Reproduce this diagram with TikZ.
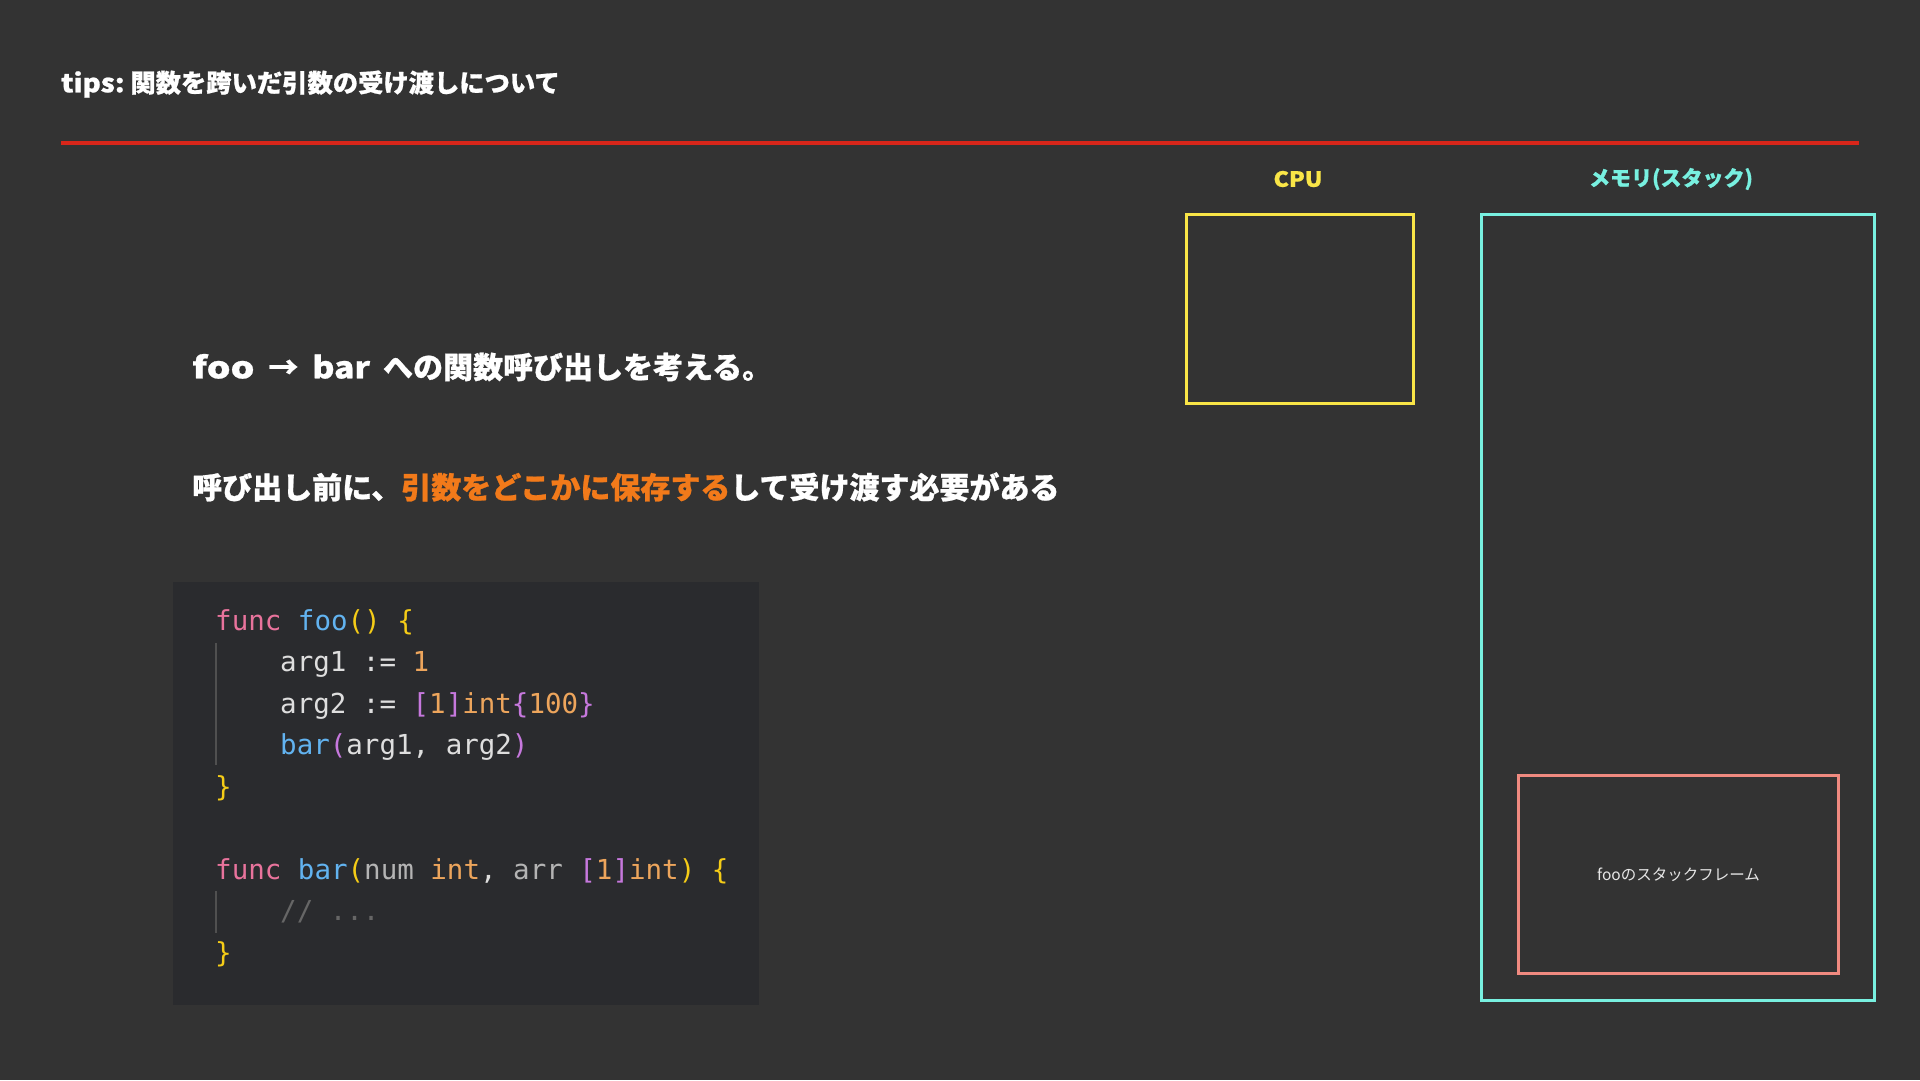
\documentclass[tikz,border=0pt]{standalone}
\usepackage{fontspec}
\usepackage{graphicx}
\newfontfamily\jp{Noto Sans CJK JP}[BoldFeatures={FakeBold=0.8}]
\newfontfamily\jpl{Noto Sans CJK JP}
\newfontfamily\mono{DejaVu Sans Mono}
\definecolor{bg}{HTML}{333333}
\definecolor{codebg}{HTML}{2A2B2E}
\definecolor{redline}{HTML}{D8261A}
\definecolor{cpuY}{HTML}{F9E547}
\definecolor{memC}{HTML}{78F0E0}
\definecolor{frameR}{HTML}{F08A80}
\definecolor{hl}{HTML}{F27A1A}
\definecolor{kw}{HTML}{E8739C}
\definecolor{fn}{HTML}{62B3F0}
\definecolor{yel}{HTML}{F5CC17}
\definecolor{mag}{HTML}{C678DD}
\definecolor{num}{HTML}{EDA55C}
\definecolor{txt}{HTML}{DEDEDE}
\definecolor{dim}{HTML}{B4B4B4}
\definecolor{cm}{HTML}{666666}
\definecolor{guide}{HTML}{505050}
\definecolor{lbl}{HTML}{E6E6E6}
\newcommand{\cc}[2]{\textcolor{#1}{#2}}
\newcommand{\wide}[2]{\scalebox{#1}[1]{#2}}
\begin{document}
\begin{tikzpicture}[x=1pt,y=-1pt,
  heading/.style={anchor=west,inner sep=0pt,text=white,font=\jp\bfseries\fontsize{30}{36}\selectfont},
  title/.style={anchor=west,inner sep=0pt,text=white,font=\jp\bfseries\fontsize{25.3}{30}\selectfont},
  boxlabel/.style={inner sep=0pt,font=\jp\bfseries\fontsize{21}{24}\selectfont},
  codeline/.style={anchor=base west,inner sep=0pt,text=txt,font=\mono\fontsize{27.5}{33}\selectfont},
  frame/.style={draw,line width=3pt,anchor=north west,inner sep=0pt}]
\fill[bg] (0,0) rectangle (1920,1080);
\useasboundingbox (0,0) rectangle (1920,1080);

% title and rule
\node[title] (ttl) at (61,84) {\wide{1.1}{tips:} 関数を跨いだ引数の受け渡しについて};
\coordinate (rl) at (61,143);
\coordinate (rr) at (1859,143);
\draw[redline,line width=4pt] (rl) -- (rr);

% headings
\node[heading] (h1) at (192,367) {\wide{1.25}{foo}\hspace{14pt}→\hspace{14pt}\wide{1.12}{bar}\hspace{13pt}への関数呼び出しを考える。};
\node[heading] (h2) at (192,487) {呼び出し前に、\cc{hl}{引数をどこかに保存する}して受け渡す必要がある};

% code block
\node[fill=codebg,anchor=north west,minimum width=586,minimum height=423,inner sep=0pt] (code) at (173,582) {};
\coordinate (g1a) at (216,643);
\coordinate (g1b) at (216,765);
\coordinate (g2a) at (216,891);
\coordinate (g2b) at (216,933);
\draw[guide,line width=1.2pt] (g1a) -- (g1b);
\draw[guide,line width=1.2pt] (g2a) -- (g2b);
\node[codeline] (c1) at (215,630) {\cc{kw}{func} \cc{fn}{foo}\cc{yel}{()} \cc{yel}{\{}};
\node[codeline] (c2) at (280,671.5) {arg1 := \cc{num}{1}};
\node[codeline] (c3) at (280,713) {arg2 := \cc{mag}{[}\cc{num}{1}\cc{mag}{]}\cc{num}{int}\cc{mag}{\{}\cc{num}{100}\cc{mag}{\}}};
\node[codeline] (c4) at (280,754.5) {\cc{fn}{bar}\cc{mag}{(}arg1, arg2\cc{mag}{)}};
\node[codeline] (c5) at (215,796) {\cc{yel}{\}}};
\node[codeline] (c7) at (215,879) {\cc{kw}{func} \cc{fn}{bar}\cc{yel}{(}\cc{dim}{num} \cc{num}{int}, \cc{dim}{arr} \cc{mag}{[}\cc{num}{1}\cc{mag}{]}\cc{num}{int}\cc{yel}{)} \cc{yel}{\{}};
\node[codeline,text=cm] (c8) at (280,920.5) {// ...};
\node[codeline] (c9) at (215,962) {\cc{yel}{\}}};

% CPU
\node[boxlabel,text=cpuY] (cpul) at (1298,179) {\wide{1.1}{CPU}};
\node[frame,draw=cpuY,minimum width=227,minimum height=189] (cpu) at (1185,213) {};

% memory
\node[boxlabel,text=memC] (meml) at (1671,179) {メモリ(スタック)};
\node[frame,draw=memC,minimum width=393,minimum height=786] (mem) at (1480,213) {};

% foo stack frame
\node[frame,draw=frameR,minimum width=320,minimum height=198,text=lbl,font=\jpl\fontsize{15.5}{18}\selectfont] (foof) at (1517,774) {fooのスタックフレーム};
\end{tikzpicture}
\end{document}
